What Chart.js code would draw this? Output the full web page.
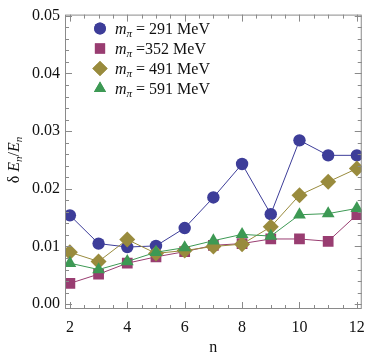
<!DOCTYPE html>
<html>
<head>
<meta charset="utf-8">
<script src="https://cdn.jsdelivr.net/npm/chart.js@4"></script>
<style>
  html, body { margin: 0; padding: 0; background: #fff; }
  #wrap { width: 374px; height: 361px; }
</style>
</head>
<body>
<div id="wrap"><canvas id="c" width="374" height="361"></canvas></div>
<script>
const nValues = [2, 3, 4, 5, 6, 7, 8, 9, 10, 11, 12];
const mpi291 = [0.0154, 0.0105, 0.0099, 0.0101, 0.0132, 0.0185, 0.0243, 0.0156, 0.0284, 0.0258, 0.0258];
const mpi352 = [0.0036, 0.0052, 0.0071, 0.0082, 0.0091, 0.0102, 0.0105, 0.0113, 0.0113, 0.0109, 0.0155];
const mpi491 = [0.0090, 0.0074, 0.0112, 0.0088, 0.0093, 0.0100, 0.0104, 0.0134, 0.0189, 0.0212, 0.0235];
const mpi591 = [0.0071, 0.0060, 0.0074, 0.0090, 0.0098, 0.0110, 0.0121, 0.0118, 0.0155, 0.0157, 0.0166];
const seriesNames = ["291", "352", "491", "591"];
const xTicks = [2, 4, 6, 8, 10, 12];
const yTicks = [0, 0.01, 0.02, 0.03, 0.04, 0.05];
const yTickLabels = ["0.00", "0.01", "0.02", "0.03", "0.04", "0.05"];

const SERIF = "'Liberation Serif', 'DejaVu Serif', serif";
const frameGray = "#8a8a8a";

function series(values) {
  return values.map((v, i) => ({ x: nValues[i], y: v }));
}

const styles = [
  { color: "#3d3d99", point: "circle", radius: 6.2 },
  { color: "#993d71", point: "rect", radius: 7.6 },
  { color: "#998b3d", point: "rectRot", radius: 8 },
  { color: "#3d9954", point: "triangle", radius: 7.4 },
];
const allValues = [mpi291, mpi352, mpi491, mpi591];

// frame + inward ticks on all four sides
const frameTicks = {
  id: "frameTicks",
  afterDraw(chart) {
    const { ctx, chartArea: a, scales } = chart;
    const xs = scales.x, ys = scales.y;
    ctx.save();
    ctx.strokeStyle = frameGray;
    ctx.lineWidth = 1;
    ctx.strokeRect(a.left + 0.5, a.top + 0.5, a.right - a.left - 1, a.bottom - a.top - 1);
    ctx.beginPath();
    for (let k = 0; k <= 20; k++) {
      const v = 2 + k * 0.5;
      const px = Math.round(xs.getPixelForValue(v)) + 0.5;
      const len = k % 4 === 0 ? 7 : 4;
      ctx.moveTo(px, a.bottom); ctx.lineTo(px, a.bottom - len);
      ctx.moveTo(px, a.top); ctx.lineTo(px, a.top + len);
    }
    for (let k = 0; k <= 25; k++) {
      const v = k * 0.002;
      const py = Math.round(ys.getPixelForValue(v)) + 0.5;
      const len = k % 5 === 0 ? 7 : 4;
      ctx.moveTo(a.left, py); ctx.lineTo(a.left + len, py);
      ctx.moveTo(a.right, py); ctx.lineTo(a.right - len, py);
    }
    ctx.stroke();
    ctx.restore();
  },
};

// legend with subscripted m_pi, and the y axis title
const textLayer = {
  id: "textLayer",
  afterDraw(chart) {
    const { ctx } = chart;
    ctx.save();
    ctx.textBaseline = "alphabetic";
    styles.forEach((s, i) => {
      const cy = 28.5 + i * 20;
      ctx.fillStyle = s.color;
      ctx.strokeStyle = s.color;
      Chart.helpers.drawPoint(ctx, { pointStyle: s.point, radius: s.radius * 0.95, rotation: 0, borderWidth: 0 }, 100, cy);
      ctx.fill();
      ctx.fillStyle = "#111";
      let x = 115;
      const base = cy + 5;
      ctx.font = "italic 16px " + SERIF;
      ctx.fillText("m", x, base);
      x += ctx.measureText("m").width;
      ctx.font = "italic 11px " + SERIF;
      ctx.fillText("\u03c0", x, base + 3);
      x += ctx.measureText("\u03c0").width;
      ctx.font = "16px " + SERIF;
      const rest = (i === 1 ? " =" : " = ") + seriesNames[i] + " MeV";
      ctx.fillText(rest, x, base);
    });

    // y title: δE_n/E_n rotated
    ctx.translate(19, 160);
    ctx.rotate(-Math.PI / 2);
    const parts = [
      ["16px ", "\u03b4 ", 0],
      ["italic 16px ", "E", 0],
      ["italic 11px ", "n", 3],
      ["16px ", "/", 0],
      ["italic 16px ", "E", 0],
      ["italic 11px ", "n", 3],
    ];
    let total = 0;
    parts.forEach(p => { ctx.font = p[0] + SERIF; total += ctx.measureText(p[1]).width; });
    let tx = -total / 2;
    ctx.fillStyle = "#111";
    parts.forEach(p => {
      ctx.font = p[0] + SERIF;
      ctx.fillText(p[1], tx, p[2]);
      tx += ctx.measureText(p[1]).width;
    });
    ctx.restore();
  },
};

new Chart(document.getElementById("c"), {
  type: "scatter",
  data: {
    datasets: allValues.map((vals, i) => ({
      label: seriesNames[i],
      data: series(vals),
      showLine: true,
      borderColor: styles[i].color,
      borderWidth: 1,
      backgroundColor: styles[i].color,
      pointBackgroundColor: styles[i].color,
      pointBorderWidth: 0,
      pointStyle: styles[i].point,
      pointRadius: styles[i].radius,
      order: 3 - i,
    })),
  },
  options: {
    responsive: false,
    animation: false,
    devicePixelRatio: 1,
    layout: { padding: { top: 6, right: 2, left: 0, bottom: 0 } },
    plugins: { legend: { display: false }, tooltip: { enabled: false } },
    scales: {
      x: {
        type: "linear",
        min: 1.83,
        max: 12.17,
        afterBuildTicks: (s) => { s.ticks = xTicks.map(v => ({ value: v })); },
        afterFit: (s) => { s.height = 52; },
        grid: { display: false, drawTicks: false },
        border: { display: false },
        ticks: { color: "#111", font: { family: SERIF, size: 16 }, padding: 9, maxRotation: 0 },
        title: { display: true, text: "n", color: "#111", font: { family: SERIF, size: 16 }, padding: { top: 0 } },
      },
      y: {
        type: "linear",
        min: -0.00084,
        max: 0.0502,
        afterBuildTicks: (s) => { s.ticks = yTicks.map(v => ({ value: v })); },
        afterFit: (s) => { s.width = 65; },
        grid: { display: false, drawTicks: false },
        border: { display: false },
        ticks: {
          color: "#111",
          font: { family: SERIF, size: 16 },
          padding: 5,
          callback: (v) => yTickLabels[yTicks.indexOf(v)] ?? "",
        },
      },
    },
  },
  plugins: [frameTicks, textLayer],
});
</script>
</body>
</html>
